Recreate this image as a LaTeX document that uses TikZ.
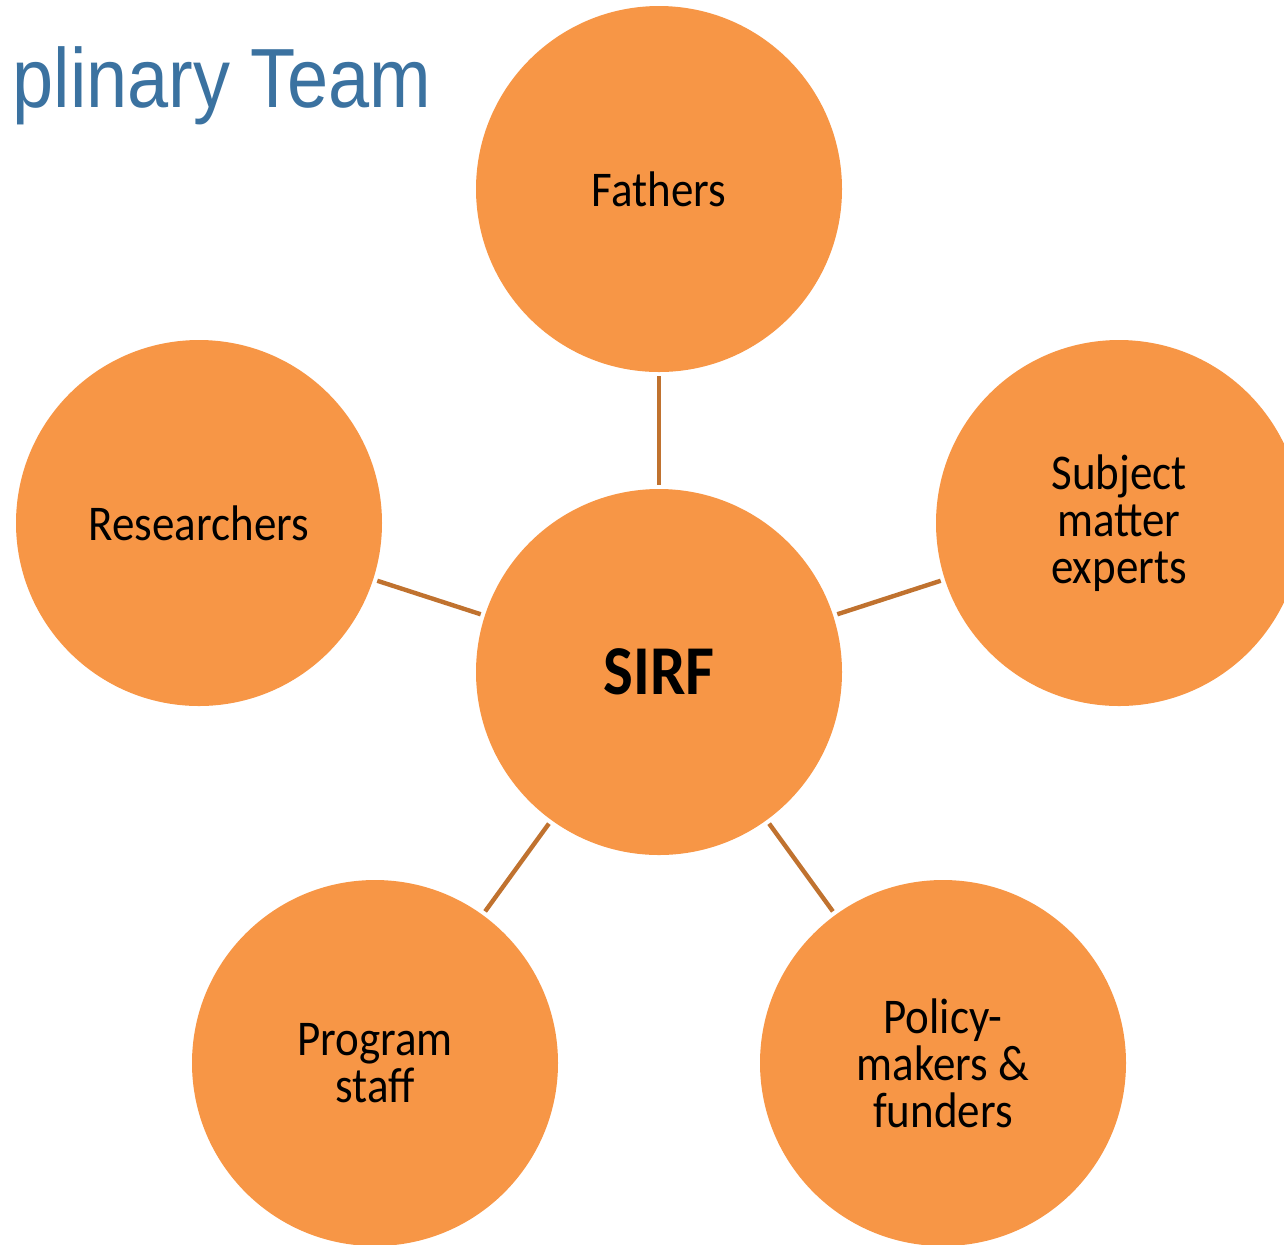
\documentclass[tikz,border=0pt]{standalone}
\usepackage{fontspec}
\setmainfont{Carlito}[FakeStretch=0.9]
\newfontfamily\titlefont{Liberation Sans}[FakeStretch=0.88]
\definecolor{bubblefill}{HTML}{F79646}
\definecolor{linkcol}{HTML}{C0722F}
\definecolor{titleblue}{HTML}{3B72A0}
\begin{document}
\begin{tikzpicture}[x=0.5pt,y=-0.5pt,
  bubble/.style={circle, fill=bubblefill, minimum size=183pt, inner sep=0pt, align=center,
    font=\fontsize{25}{23.5}\selectfont},
  link/.style={draw=linkcol, line width=2.2pt, shorten >=2pt, shorten <=2pt}]
\useasboundingbox (0,0) rectangle (1284,1244);
\clip (0,0) rectangle (1284,1244);
\node[anchor=base east, text=titleblue, font=\titlefont\fontsize{42}{42}\selectfont, inner sep=0pt] (title) at (432,107) {plinary Team};
\node[bubble] (sirf) at (659,672) {\fontsize{35}{35}\selectfont\bfseries SIRF};
\node[bubble] (fathers) at (659,189) {Fathers};
\node[bubble] (res) at (199,523) {Researchers};
\node[bubble] (sme) at (1119,523) {Subject\\matter\\experts};
\node[bubble] (prog) at (375,1063) {Program\\staff};
\node[bubble] (pol) at (943,1063) {Policy-\\makers \&\\funders};
\draw[link] (fathers) -- (sirf);
\draw[link] (res) -- (sirf);
\draw[link] (sme) -- (sirf);
\draw[link] (prog) -- (sirf);
\draw[link] (pol) -- (sirf);
\end{tikzpicture}
\end{document}
